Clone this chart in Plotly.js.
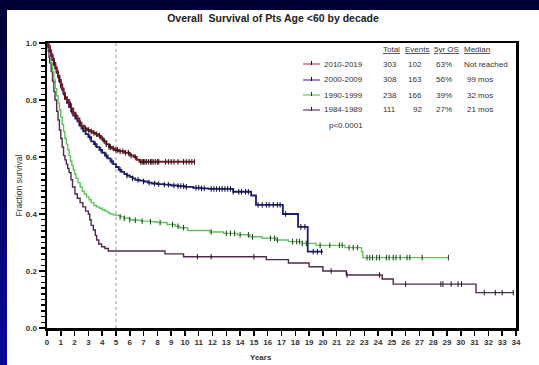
<!DOCTYPE html>
<html>
<head>
<meta charset="utf-8">
<script src="https://cdn.plot.ly/plotly-3.0.1.min.js"></script>
<style>
  html, body { margin:0; padding:0; width:539px; height:365px; overflow:hidden;
    background: linear-gradient(180deg, #000034 0%, #03035a 35%, #0a0a9a 100%); }
  #chart { position:absolute; left:7px; top:10px; width:532px; height:355px; background:#fff; }
</style>
</head>
<body>
<div id="chart"></div>
<script>
// ---------- data ----------
const groups   = ['2010-2019', '2000-2009', '1990-1999', '1984-1989'];
const totals   = ['303', '308', '238', '111'];
const events   = ['102', '163', '166', '92'];
const os5      = ['63%', '56%', '39%', '27%'];
const medians  = ['Not reached', '99 mos', '32 mos', '21 mos'];
const pValue   = 'p<0.0001';
const headers  = ['Total', 'Events', '5yr OS', 'Median'];
const xTicks   = [0,1,2,3,4,5,6,7,8,9,10,11,12,13,14,15,16,17,18,19,20,21,22,23,24,25,26,27,28,29,30,31,32,33,34];
const yTicks   = [0, 0.2, 0.4, 0.6, 0.8, 1.0];
const yTickText= ['0.0', '0.2', '0.4', '0.6', '0.8', '1.0'];
const fiveYear = 5;

// 2010-2019 (step knots: time in years, survival fraction)
const t2010 = [0,0.1,0.2,0.3,0.4,0.5,0.6,0.7,0.8,0.9,1.0,1.1,1.2,1.3,1.45,1.6,1.75,1.9,2.05,2.2,2.35,2.5,2.7,2.9,3.1,3.3,3.5,3.7,3.9,4.1,4.3,4.5,4.7,4.9,5.2,5.6,6.0,6.3,6.5,6.7,10.7];
const s2010 = [1,0.99,0.975,0.96,0.945,0.93,0.915,0.90,0.885,0.87,0.855,0.84,0.825,0.81,0.80,0.785,0.77,0.755,0.745,0.735,0.72,0.71,0.70,0.695,0.69,0.685,0.68,0.675,0.665,0.655,0.645,0.635,0.63,0.625,0.62,0.615,0.605,0.60,0.59,0.583,0.583];
const c2010 = [0.5,0.9,1.3,1.7,2.1,2.4,2.8,3.0,3.2,3.4,3.6,3.8,4.0,4.15,4.3,4.5,4.6,4.8,5.0,5.1,5.3,5.5,5.7,5.9,6.1,6.4,6.8,6.9,7.0,7.1,7.2,7.35,7.5,7.6,7.7,7.85,8.0,8.1,8.6,8.8,9.0,9.2,9.5,9.9,10.1,10.3,10.5,10.7];

// 2000-2009
const t2000 = [0,0.1,0.2,0.3,0.4,0.5,0.6,0.7,0.8,0.9,1.0,1.1,1.2,1.3,1.45,1.6,1.75,1.9,2.05,2.2,2.35,2.5,2.65,2.8,3.0,3.2,3.4,3.6,3.8,4.0,4.2,4.4,4.6,4.8,5.0,5.2,5.4,5.6,5.8,6.0,6.2,6.4,6.7,7.0,7.3,7.6,8.0,8.5,9.0,9.5,10.0,10.6,11.2,11.7,13.5,14.8,15.15,17.1,18.2,18.9,20.0];
const s2000 = [1,0.985,0.97,0.955,0.94,0.925,0.91,0.895,0.88,0.865,0.85,0.835,0.82,0.805,0.79,0.775,0.76,0.745,0.735,0.725,0.71,0.70,0.69,0.68,0.67,0.655,0.645,0.635,0.625,0.615,0.605,0.595,0.585,0.575,0.565,0.555,0.548,0.54,0.535,0.53,0.525,0.52,0.517,0.514,0.51,0.507,0.505,0.503,0.50,0.498,0.495,0.492,0.49,0.488,0.478,0.465,0.432,0.40,0.355,0.268,0.268];
const c2000 = [1.0,1.8,2.6,3.1,3.5,3.9,4.3,4.7,5.3,5.8,6.2,6.6,7.0,7.4,7.8,8.1,8.5,8.8,9.2,9.5,9.7,9.9,10.1,10.8,11.0,11.2,11.4,11.9,12.1,12.3,12.5,12.7,12.9,13.1,13.3,13.5,13.9,14.1,14.4,14.6,15.3,15.6,15.9,16.1,16.4,16.7,16.9,17.3,18.4,18.7,19.3,19.6,19.9];

// 1990-1999
const t1990 = [0,0.1,0.2,0.3,0.4,0.5,0.6,0.7,0.8,0.9,1.0,1.1,1.2,1.3,1.4,1.5,1.6,1.7,1.8,1.9,2.0,2.1,2.25,2.4,2.55,2.7,2.87,3.05,3.2,3.4,3.6,3.8,4.0,4.2,4.4,4.56,4.8,5.0,5.3,5.6,6.0,6.25,6.8,7.5,8.0,8.7,9.3,9.6,10.2,11.8,12.8,13.8,14.7,15.6,16.6,17.5,18.5,19.5,21.6,22.8,22.9,29.1];
const s1990 = [1,0.98,0.96,0.93,0.90,0.87,0.84,0.815,0.79,0.765,0.74,0.715,0.69,0.665,0.645,0.625,0.605,0.585,0.57,0.555,0.54,0.525,0.51,0.495,0.48,0.47,0.46,0.45,0.44,0.43,0.425,0.42,0.415,0.41,0.405,0.40,0.397,0.395,0.39,0.385,0.38,0.378,0.375,0.373,0.37,0.363,0.357,0.352,0.342,0.337,0.332,0.327,0.32,0.315,0.309,0.303,0.297,0.29,0.282,0.268,0.247,0.247];
const c1990 = [5.3,5.6,6.0,6.4,6.9,7.5,8.2,9.1,9.5,9.9,11.9,13.0,13.3,13.6,14.0,14.6,14.9,16.2,16.5,16.7,17.8,18.1,18.3,18.5,18.8,19.8,20.5,21.2,21.4,21.9,22.2,22.5,23.2,23.4,23.6,23.9,24.1,24.6,24.8,25.1,25.3,25.6,26.1,26.3,27.2,29.1];

// 1984-1989
const t1984 = [0,0.05,0.1,0.15,0.2,0.3,0.4,0.5,0.58,0.7,0.8,0.9,1.0,1.1,1.2,1.3,1.4,1.5,1.6,1.74,1.85,2.03,2.2,2.4,2.6,2.8,3.0,3.1,3.2,3.36,3.5,3.6,3.75,3.96,4.2,4.44,8.55,9.9,15.9,17.5,19.0,20.0,21.7,24.3,25.1,31.1,33.8];
const s1984 = [1,0.99,0.97,0.95,0.93,0.90,0.865,0.83,0.80,0.76,0.73,0.695,0.665,0.635,0.605,0.59,0.575,0.56,0.545,0.52,0.495,0.47,0.455,0.44,0.425,0.41,0.40,0.38,0.36,0.344,0.325,0.309,0.295,0.285,0.279,0.27,0.26,0.25,0.24,0.228,0.215,0.20,0.186,0.172,0.154,0.124,0.124];
const c1984 = [10.9,11.9,15.0,20.6,21.75,24.1,26.0,28.55,28.7,29.3,29.8,30.05,31.7,32.5,33.0,33.8];

const lineColors   = ['#7a1e28', '#1e1e70', '#5ec45e', '#4e2a4e'];
const lineWidths   = [2, 1.8, 1.4, 1.4];
const legendColors = ['#c04a58', '#4040b0', '#60c860', '#6e3a6e'];
const tickColors   = ['#2a0c0c', '#0c0c34', '#1e3a1e', '#2a142a'];

// ---------- helpers ----------
function stepAt(ts, ss, t) {
  let v = ss[0];
  for (let i = 0; i < ts.length; i++) { if (ts[i] <= t) v = ss[i]; else break; }
  return v;
}
const FONT = 'Liberation Sans, Arial, sans-serif';
const series = [
  {t: t1984, s: s1984, c: c1984, k: 3},
  {t: t1990, s: s1990, c: c1990, k: 2},
  {t: t2000, s: s2000, c: c2000, k: 1},
  {t: t2010, s: s2010, c: c2010, k: 0}
];
const traces = [];
series.forEach(function (d) {
  traces.push({
    x: d.t, y: d.s, type: 'scatter', mode: 'lines', name: groups[d.k],
    line: {shape: 'hv', color: lineColors[d.k], width: lineWidths[d.k]}, hoverinfo: 'skip', showlegend: false
  });
  traces.push({
    x: d.c, y: d.c.map(function (t) { return stepAt(d.t, d.s, t); }),
    type: 'scatter', mode: 'markers', showlegend: false, hoverinfo: 'skip',
    marker: {symbol: 'line-ns-open', size: 4, color: tickColors[d.k], line: {width: 1, color: tickColors[d.k]}}
  });
});

// ---------- legend table (screen pixel -> paper) ----------
const PL = 47, PR = 516, PT = 43, PB = 328;
function xp(X) { return (X - PL) / (PR - PL); }
function yp(Y) { return (PB - Y) / (PB - PT); }
const rowY = [64, 80, 95, 110];
const annotations = [];
const shapes = [];
const tf = {family: FONT, size: 8, color: '#333'};
const hdrX = [381, 403, 432, 462];
headers.forEach(function (h, i) {
  annotations.push({xref: 'paper', yref: 'paper', x: xp(hdrX[i]), y: yp(50), text: h,
    showarrow: false, xanchor: 'left', yanchor: 'middle',
    font: {family: FONT, size: 8, color: '#333', lineposition: 'under'}});
});
groups.forEach(function (g, i) {
  const y = yp(rowY[i]);
  annotations.push({xref: 'paper', yref: 'paper', x: xp(365), y: y, text: g, showarrow: false, xanchor: 'right', yanchor: 'middle', font: tf});
  annotations.push({xref: 'paper', yref: 'paper', x: xp(381), y: y, text: totals[i], showarrow: false, xanchor: 'left', yanchor: 'middle', font: tf});
  annotations.push({xref: 'paper', yref: 'paper', x: xp(424), y: y, text: events[i], showarrow: false, xanchor: 'right', yanchor: 'middle', font: tf});
  annotations.push({xref: 'paper', yref: 'paper', x: xp(444), y: y, text: os5[i], showarrow: false, xanchor: 'center', yanchor: 'middle', font: tf});
  annotations.push({xref: 'paper', yref: 'paper', x: xp(i === 0 ? 462 : 465), y: y, text: medians[i], showarrow: false, xanchor: 'left', yanchor: 'middle', font: tf});
  shapes.push({type: 'line', xref: 'paper', yref: 'paper', x0: xp(303), x1: xp(320), y0: y, y1: y,
    line: {color: legendColors[i], width: 1.2}});
  shapes.push({type: 'line', xref: 'paper', yref: 'paper', x0: xp(311.5), x1: xp(311.5), y0: yp(rowY[i] - 3), y1: yp(rowY[i] + 1),
    line: {color: tickColors[i], width: 1}});
});
annotations.push({xref: 'paper', yref: 'paper', x: xp(365), y: yp(125), text: pValue, showarrow: false, xanchor: 'right', yanchor: 'middle', font: tf});
annotations.push({xref: 'paper', yref: 'paper', x: xp(261), y: yp(357), text: '<b>Years</b>', showarrow: false, xanchor: 'center', yanchor: 'middle', font: {family: FONT, size: 8, color: '#333'}});

// 5-year reference line
shapes.push({type: 'line', xref: 'x', yref: 'paper', x0: fiveYear, x1: fiveYear, y0: 0, y1: 1, layer: 'below',
  line: {color: '#999', width: 1, dash: 'dot'}});

const layout = {
  width: 532, height: 355,
  margin: {l: 40, r: 23, t: 33, b: 37},
  paper_bgcolor: '#ffffff', plot_bgcolor: '#ffffff',
  font: {family: FONT, size: 8, color: '#333'},
  title: {text: '<b>Overall\u00a0 Survival of Pts Age &lt;60 by decade</b>', x: 0.5, xanchor: 'center', y: 1 - 8 / 355, yanchor: 'middle',
    font: {family: FONT, size: 10.5, color: '#222'}},
  xaxis: {range: [0, 34], tickmode: 'array', tickvals: xTicks, ticktext: xTicks.map(String),
    showgrid: false, zeroline: false, showline: true, linewidth: 2.5, linecolor: '#000', mirror: true,
    ticks: 'outside', ticklen: 5, tickwidth: 1.5, tickcolor: '#000',
    tickfont: {family: FONT, size: 8, color: '#333', weight: 'bold'}, fixedrange: true},
  yaxis: {range: [0, 1], tickmode: 'array', tickvals: yTicks, ticktext: yTickText,
    showgrid: false, zeroline: false, showline: true, linewidth: 2.5, linecolor: '#000', mirror: true,
    ticks: 'outside', ticklen: 6, tickwidth: 2, tickcolor: '#000',
    minor: {dtick: 0.02, ticks: 'outside', ticklen: 4, tickwidth: 1.5, tickcolor: '#000', showgrid: false},
    tickfont: {family: FONT, size: 8, color: '#333', weight: 'bold'},
    title: {text: 'Fraction survival', standoff: 2, font: {family: FONT, size: 8.5, color: '#333'}}, fixedrange: true},
  showlegend: false,
  annotations: annotations,
  shapes: shapes
};
Plotly.newPlot('chart', traces, layout, {staticPlot: true, displayModeBar: false});
</script>
</body>
</html>
